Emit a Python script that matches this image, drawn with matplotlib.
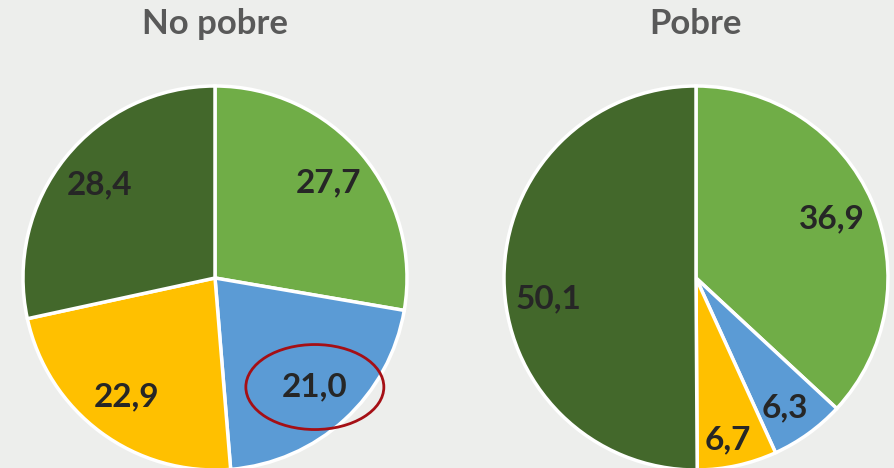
import matplotlib.pyplot as plt
from matplotlib.patches import Ellipse

titles = ['No pobre', 'Pobre']
no_pobre = [27.7, 21.0, 22.9, 28.4]
pobre = [36.9, 6.3, 6.7, 50.1]
colors = ['#70AD47', '#5B9BD5', '#FFC000', '#43682B']

BG = '#EDEEEC'
plt.rcParams['font.family'] = ['Lato', 'DejaVu Sans']

fig = plt.figure(figsize=(8.94, 4.68), dpi=100, facecolor=BG)
ax = fig.add_axes([0, 0, 1, 1])
ax.set_facecolor(BG)


def fmt(p):
    return f'{p:.1f}'.replace('.', ',')


label_texts = []
for vals, cx, title in [(no_pobre, 215, titles[0]), (pobre, 696, titles[1])]:
    wedges, texts, autotexts = ax.pie(
        vals, colors=colors, startangle=90, counterclock=False,
        center=(cx, 190), radius=192, frame=True,
        autopct=fmt, pctdistance=0.77,
        wedgeprops=dict(edgecolor='white', linewidth=2.5),
        textprops=dict(fontsize=24, fontweight='bold', color='#262626'))
    label_texts.append(autotexts)
    ax.text(cx, 444, title, ha='center', va='center', fontsize=25,
            fontweight='bold', color='#595959')

# Excel's "best fit" pushed the small Pobre labels outward a bit
nudges = {1: (2, -10), 2: (0, -17), 3: (0, -20)}
for i, (dx, dy) in nudges.items():
    t = label_texts[1][i]
    x, y = t.get_position()
    t.set_position((x + dx, y + dy))

# red ring around the "21,0" label
lx, ly = label_texts[0][1].get_position()
ax.add_patch(Ellipse((lx, ly), 138, 85, fill=False, edgecolor='#A50F15',
                     linewidth=2, zorder=5))

ax.set_xlim(0, 894)
ax.set_ylim(0, 468)
ax.set_aspect('equal')
ax.axis('off')

fig.savefig('out.png', dpi=100, facecolor=BG)
